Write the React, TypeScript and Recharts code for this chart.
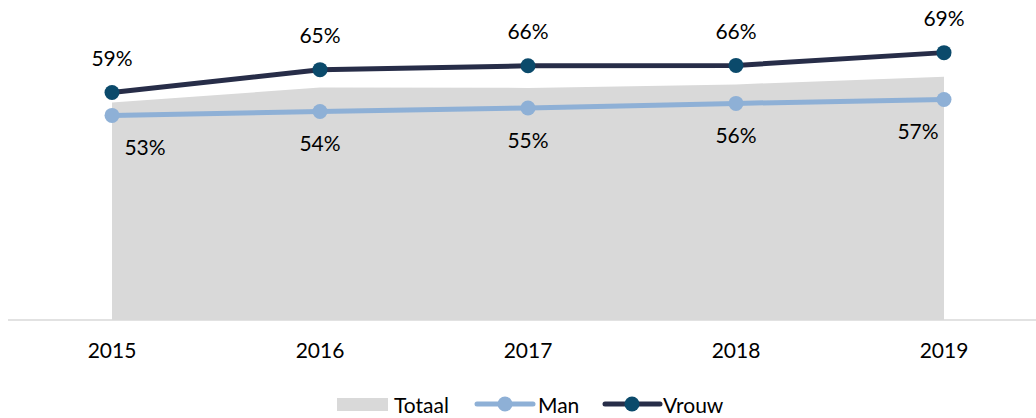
import { ComposedChart, Area, Line, XAxis, YAxis, LabelList } from 'recharts';

const years = ['2015', '2016', '2017', '2018', '2019'];
const totaal = [56.1, 60.0, 59.9, 60.8, 62.8];
const man = [52.8, 53.8, 54.7, 55.9, 56.9];
const vrouw = [58.7, 64.6, 65.6, 65.7, 69.0];

const FONT = 'Lato, "Open Sans", sans-serif';
const GREY = '#d9d9d9';
const MAN_COLOR = '#8eb0d6';
const VROUW_LINE = '#272d48';
const VROUW_DOT = '#0b4a6b';

const data = years.map((year, i) => ({
  year,
  totaal: totaal[i],
  man: man[i],
  vrouw: vrouw[i],
}));

const pct = (v: any) => `${Math.round(Number(v))}%`;

function VrouwLabel(props: any) {
  const { x, y, value } = props;
  return (
    <text x={x} y={y - 35} textAnchor="middle" dominantBaseline="central" fontSize={21} fontFamily={FONT} fill="#000">
      {pct(value)}
    </text>
  );
}

function ManLabel(props: any) {
  const { x, y, value, index } = props;
  // first and last label are pushed inwards, like in the original
  let dx = 0;
  if (index === 0) dx = 33;
  if (index === years.length - 1) dx = -26;
  return (
    <text x={x + dx} y={y + 31} textAnchor="middle" dominantBaseline="central" fontSize={21} fontFamily={FONT} fill="#000">
      {pct(value)}
    </text>
  );
}

// legend drawn by hand below the chart
function ChartLegend() {
  const cy = 24;
  return (
    <svg width={1036} height={38} style={{ display: 'block' }}>
      <rect x={337} y={cy - 6} width={51} height={13} fill={GREY} />
      <text x={394} y={cy} dominantBaseline="central" fontSize={21} fontFamily={FONT} fill="#000">Totaal</text>

      <line x1={477} x2={533} y1={cy} y2={cy} stroke={MAN_COLOR} strokeWidth={5} strokeLinecap="round" />
      <circle cx={505} cy={cy} r={7.5} fill={MAN_COLOR} />
      <text x={538} y={cy} dominantBaseline="central" fontSize={21} fontFamily={FONT} fill="#000">Man</text>

      <line x1={605} x2={660} y1={cy} y2={cy} stroke={VROUW_LINE} strokeWidth={5} strokeLinecap="round" />
      <circle cx={632} cy={cy} r={7.5} fill={VROUW_DOT} />
      <text x={663} y={cy} dominantBaseline="central" fontSize={21} fontFamily={FONT} fill="#000">Vrouw</text>
    </svg>
  );
}

export default function App() {
  return (
    <div style={{ position: 'absolute', top: 0, left: 0, width: 1036, height: 418, background: '#fff' }}>
      <ComposedChart width={1036} height={380} data={data} margin={{ top: 10, right: 0, left: 8, bottom: 0 }}>
        <XAxis
          dataKey="year"
          padding={{ left: 104, right: 92 }}
          axisLine={{ stroke: GREY, strokeWidth: 1.5 }}
          tickLine={false}
          tickMargin={17}
          height={60}
          tick={{ fill: '#000', fontSize: 21, fontFamily: FONT }}
        />
        <YAxis hide domain={[0, 80]} />
        <Area
          type="linear"
          dataKey="totaal"
          name="Totaal"
          fill={GREY}
          fillOpacity={1}
          stroke="none"
          isAnimationActive={false}
        />
        <Line
          type="linear"
          dataKey="man"
          name="Man"
          stroke={MAN_COLOR}
          strokeWidth={5}
          dot={{ r: 7.5, fill: MAN_COLOR, stroke: 'none' }}
          isAnimationActive={false}
        >
          <LabelList dataKey="man" content={<ManLabel />} />
        </Line>
        <Line
          type="linear"
          dataKey="vrouw"
          name="Vrouw"
          stroke={VROUW_LINE}
          strokeWidth={5}
          dot={{ r: 7.5, fill: VROUW_DOT, stroke: 'none' }}
          isAnimationActive={false}
        >
          <LabelList dataKey="vrouw" content={<VrouwLabel />} />
        </Line>
      </ComposedChart>
      <ChartLegend />
    </div>
  );
}
